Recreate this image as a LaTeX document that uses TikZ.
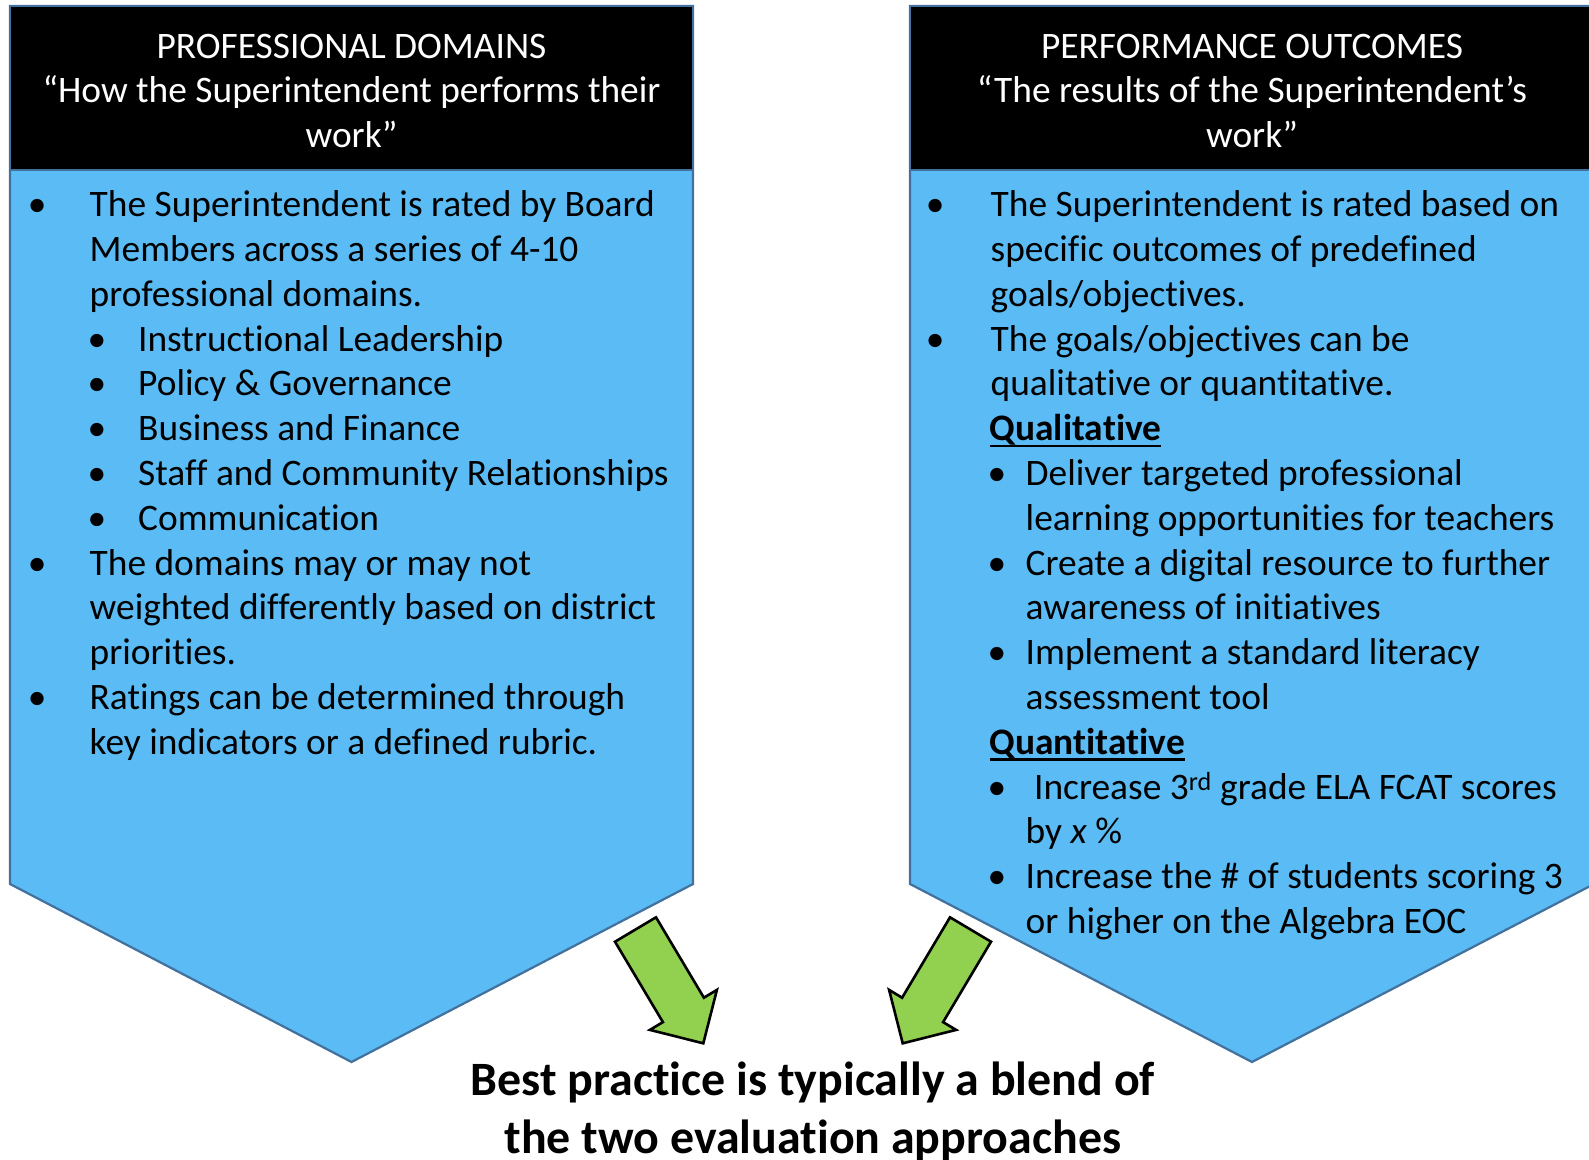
\documentclass[tikz,border=0pt]{standalone}
\usepackage{fontspec}
\setmainfont{Carlito}[Ligatures={NoCommon}]

\definecolor{panelfill}{RGB}{91,187,244}
\definecolor{paneledge}{RGB}{65,113,156}
\definecolor{arrowgreen}{RGB}{146,208,80}

% body type: 37.4pt on a 44.8pt line
\newcommand\bodysize{\fontsize{37.4}{44.8}\selectfont}
% list line: bullet centred at x=#1, text starting at x=#2
\newcommand\bline[3]{\hbox{\kern#1pt\makebox[0pt]{\textbullet}\kern\dimexpr#2pt-#1pt\relax #3}}
% continuation line: text starting at x=#1
\newcommand\tline[2]{\hbox{\kern#1pt #2}}
% line centred on the node's point
\newcommand\midline[1]{\hbox to 0pt{\hss#1\hss}}
% heavy underline
\newcommand\uline[1]{\setbox0\hbox{#1}\rlap{\rule[-6.5pt]{\wd0}{2.6pt}}\box0}

\tikzset{
  panel/.style={fill=panelfill, draw=paneledge, line width=2.2pt, line join=miter},
  header/.style={fill=black, draw=paneledge, line width=2.2pt},
  blockarrow/.style={fill=arrowgreen, draw=black, line width=2.6pt, line join=miter},
  bodytext/.style={anchor=base west, inner sep=0pt, font=\bodysize},
  headtext/.style={anchor=base, inner sep=0pt, font=\bodysize, text=white}
}

\begin{document}
\begin{tikzpicture}[x=1pt,y=-1pt]
\useasboundingbox (0,0) rectangle (1589,1159);
\fill[white] (0,0) rectangle (1589,1159);

% left panel: professional domains
\path[panel] (10,6) -- (693,6) -- (693,884) -- (351.5,1062) -- (10,884) -- cycle;
\path[header] (10,6) rectangle (693,170);

% right panel: performance outcomes
\path[panel] (910,6) -- (1594,6) -- (1594,884) -- (1252,1062) -- (910,884) -- cycle;
\path[header] (910,6) rectangle (1594,170);

% panel titles
\node[headtext] (lefthead) at (351.5,58) {\vtop{%
  \midline{PROFESSIONAL DOMAINS}
  \midline{“How the Superintendent performs their}
  \midline{work”}}};
\node[headtext] (righthead) at (1252,58) {\vtop{%
  \midline{PERFORMANCE OUTCOMES}
  \midline{“The results of the Superintendent’s}
  \midline{work”}}};

% left panel body
\node[bodytext] (leftbody) at (0,216.7) {\vtop{%
  \bline{37}{89.5}{The Superintendent is rated by Board}
  \tline{89.5}{Members across a series of 4-10}
  \tline{89.5}{professional domains.}
  \bline{96.7}{138}{Instructional Leadership}
  \bline{96.7}{138}{Policy \& Governance}
  \bline{96.7}{138}{Business and Finance}
  \bline{96.7}{138}{Staff and Community Relationships}
  \bline{96.7}{138}{Communication}
  \bline{37}{89.5}{The domains may or may not}
  \tline{89.5}{weighted differently based on district}
  \tline{89.5}{priorities.}
  \bline{37}{89.5}{Ratings can be determined through}
  \tline{89.5}{key indicators or a defined rubric.}}};

% right panel body
\node[bodytext] (rightbody) at (0,216.7) {\vtop{%
  \bline{935}{990.5}{The Superintendent is rated based on}
  \tline{990.5}{specific outcomes of predefined}
  \tline{990.5}{goals/objectives.}
  \bline{935}{990.5}{The goals/objectives can be}
  \tline{990.5}{qualitative or quantitative.}
  \tline{989.5}{\uline{\textbf{Qualitative}}}
  \bline{996.7}{1025.5}{Deliver targeted professional}
  \tline{1025.5}{learning opportunities for teachers}
  \bline{996.7}{1025.5}{Create a digital resource to further}
  \tline{1025.5}{awareness of initiatives}
  \bline{996.7}{1025.5}{Implement a standard literacy}
  \tline{1025.5}{assessment tool}
  \tline{989.5}{\uline{\textbf{Quantitative}}}
  \bline{996.7}{1025.5}{\ Increase 3\textsuperscript{rd} grade ELA FCAT scores}
  \tline{1025.5}{by \textit{x} \%}
  \bline{996.7}{1025.5}{Increase the \# of students scoring 3}
  \tline{1025.5}{or higher on the Algebra EOC}}};

% green block arrows converging on the conclusion
\path[blockarrow] (615.0,941.7) -- (656.0,917.3) -- (703.9,997.7) -- (716.9,989.9)
  -- (703.3,1043.3) -- (649.9,1029.9) -- (662.9,1022.1) -- cycle;
\path[blockarrow] (991.0,941.7) -- (950.0,917.3) -- (902.1,997.7) -- (889.1,989.9)
  -- (902.7,1043.3) -- (956.1,1029.9) -- (943.1,1022.1) -- cycle;

% conclusion
\node[anchor=base, inner sep=0pt, font=\fontsize{47.9}{58}\selectfont\bfseries] (blend)
  at (812.8,1095) {\vtop{%
  \midline{Best practice is typically a blend of}
  \midline{the two evaluation approaches}}};
\end{tikzpicture}
\end{document}
